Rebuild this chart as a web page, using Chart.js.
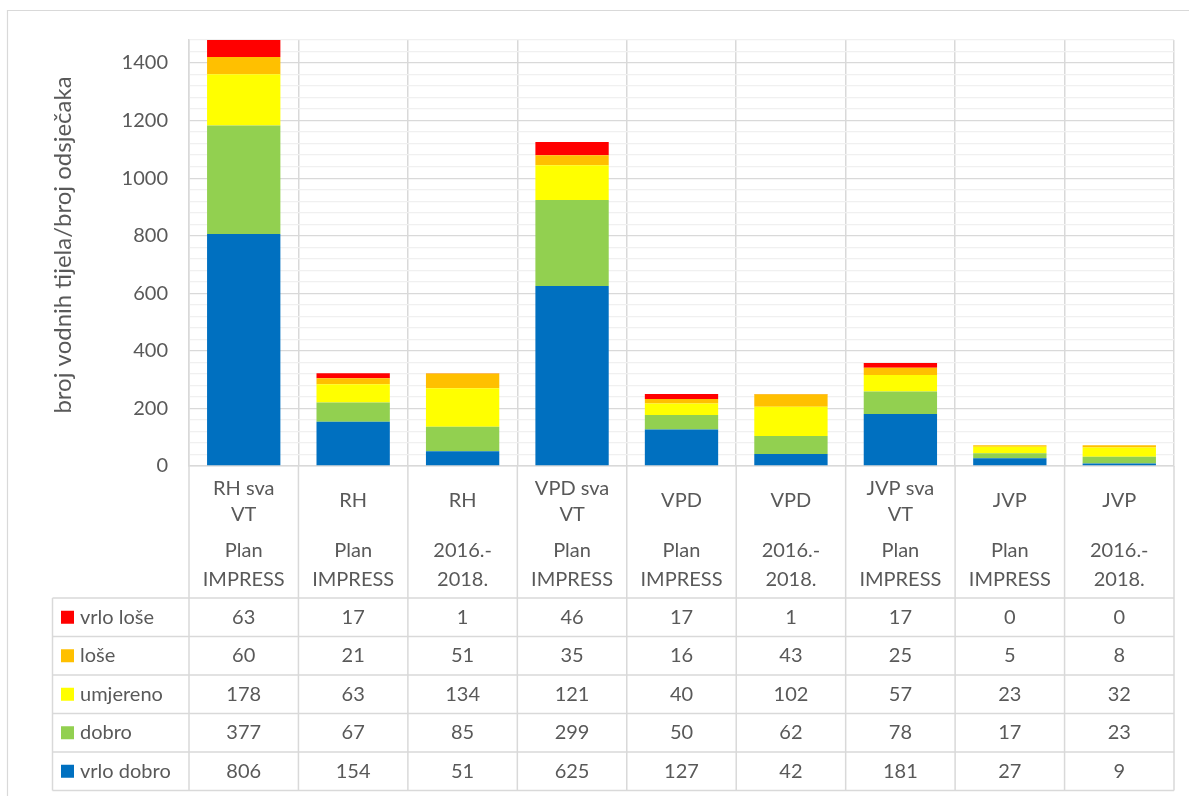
<!DOCTYPE html>
<html>
<head>
<meta charset="utf-8">
<script src="https://cdn.jsdelivr.net/npm/chart.js@4.4.1/dist/chart.umd.min.js"></script>
<style>
html,body{margin:0;padding:0;background:#fff;}
#wrap{width:1189px;height:796px;position:relative;}
</style>
</head>
<body>
<div id="wrap"><canvas id="c" width="1189" height="796"></canvas></div>
<script>
// ---- data ----
const categoriesTop = [["RH sva","VT"],["RH"],["RH"],["VPD sva","VT"],["VPD"],["VPD"],["JVP sva","VT"],["JVP"],["JVP"]];
const categoriesSub = [["Plan","IMPRESS"],["Plan","IMPRESS"],["2016.-","2018."],["Plan","IMPRESS"],["Plan","IMPRESS"],["2016.-","2018."],["Plan","IMPRESS"],["Plan","IMPRESS"],["2016.-","2018."]];
const vrloDobro = [806,154,51,625,127,42,181,27,9];
const dobro     = [377,67,85,299,50,62,78,17,23];
const umjereno  = [178,63,134,121,40,102,57,23,32];
const lose      = [60,21,51,35,16,43,25,5,8];
const vrloLose  = [63,17,1,46,17,1,17,0,0];
const seriesNames = ["vrlo dobro","dobro","umjereno","loše","vrlo loše"];
const seriesColors = ["#0070C0","#92D050","#FFFF00","#FFC000","#FF0000"];
const yTicksMajor = [0,200,400,600,800,1000,1200,1400];
const yTitle = "broj vodnih tijela/broj odsječaka";

const seriesData = [vrloDobro,dobro,umjereno,lose,vrloLose];
const FONT = "Lato";
const TXT = "#595959";
const GRID = "#d9d9d9";

const tablePlugin = {
  id: 'tablePlugin',
  afterDraw(chart) {
    const ctx = chart.ctx;
    const xs = chart.scales.x;
    const area = chart.chartArea;
    const n = categoriesTop.length;
    const half = (xs.getPixelForValue(1) - xs.getPixelForValue(0)) / 2;
    const bounds = [];
    for (let i = 0; i < n; i++) bounds.push(xs.getPixelForValue(i) - half);
    bounds.push(xs.getPixelForValue(n - 1) + half);
    const labelBottom = 598;
    const tableLeft = 52.5;
    const rowH = 38.5;
    const nRows = seriesNames.length;
    const tableBottom = labelBottom + rowH * nRows;

    ctx.save();
    // outer frame
    ctx.strokeStyle = GRID;
    ctx.lineWidth = 1.2;
    ctx.beginPath();
    ctx.moveTo(7.5, 800); ctx.lineTo(7.5, 10.5); ctx.lineTo(1195, 10.5);
    ctx.stroke();

    ctx.lineWidth = 1.5;
    ctx.strokeStyle = GRID;
    ctx.beginPath();
    bounds.forEach(b => { ctx.moveTo(b, area.bottom); ctx.lineTo(b, tableBottom); });
    ctx.moveTo(tableLeft, labelBottom); ctx.lineTo(tableLeft, tableBottom);
    for (let r = 0; r <= nRows; r++) {
      const y = labelBottom + r * rowH;
      ctx.moveTo(tableLeft, y); ctx.lineTo(bounds[n], y);
    }
    ctx.stroke();

    // y axis title
    ctx.save();
    ctx.translate(63, 245);
    ctx.rotate(-Math.PI / 2);
    ctx.fillStyle = TXT;
    ctx.font = "24px " + FONT;
    ctx.textAlign = "center";
    ctx.textBaseline = "middle";
    ctx.fillText(yTitle, 0, 0);
    ctx.restore();

    // category labels
    ctx.fillStyle = TXT;
    ctx.font = "20px " + FONT;
    ctx.textAlign = "center";
    ctx.textBaseline = "middle";
    for (let i = 0; i < n; i++) {
      const cx = xs.getPixelForValue(i);
      const top = categoriesTop[i];
      if (top.length === 2) {
        ctx.fillText(top[0], cx, 489);
        ctx.fillText(top[1], cx, 515);
      } else {
        ctx.fillText(top[0], cx, 501);
      }
      ctx.fillText(categoriesSub[i][0], cx, 551);
      ctx.fillText(categoriesSub[i][1], cx, 580);
    }

    // table rows (top row = last series)
    for (let r = 0; r < nRows; r++) {
      const s = nRows - 1 - r;
      const cy = labelBottom + r * rowH + rowH / 2;
      ctx.fillStyle = seriesColors[s];
      ctx.fillRect(61, cy - 6.5, 13, 13);
      ctx.fillStyle = TXT;
      ctx.textAlign = "left";
      ctx.fillText(seriesNames[s], 80, cy);
      ctx.textAlign = "center";
      for (let i = 0; i < n; i++) {
        ctx.fillText(String(seriesData[s][i]), xs.getPixelForValue(i), cy);
      }
    }
    ctx.restore();
  }
};

function draw() {
  new Chart(document.getElementById('c'), {
    type: 'bar',
    data: {
      labels: categoriesTop.map(a => a.join(' ')),
      datasets: seriesNames.map((name, k) => ({
        label: name,
        data: seriesData[k],
        backgroundColor: seriesColors[k],
        borderWidth: 0,
        categoryPercentage: 1,
        barPercentage: 0.67
      }))
    },
    options: {
      responsive: false,
      animation: false,
      devicePixelRatio: 1,
      layout: { padding: { left: 48, top: 40, right: 15, bottom: 330 } },
      plugins: { legend: { display: false }, tooltip: { enabled: false } },
      scales: {
        x: {
          stacked: true,
          ticks: { display: false },
          grid: { color: GRID, lineWidth: 1.5, offset: true, drawTicks: false },
          border: { color: GRID, width: 1.5 }
        },
        y: {
          stacked: true,
          min: 0,
          max: 1480,
          afterFit(scale) { scale.width = 141; },
          afterBuildTicks(scale) {
            const t = [];
            for (let v = 0; v <= 1480; v += 40) t.push({ value: v });
            scale.ticks = t;
          },
          ticks: {
            autoSkip: false,
            padding: 21,
            color: TXT,
            font: { family: FONT, size: 20 },
            callback: (v) => yTicksMajor.includes(v) ? String(v) : ''
          },
          grid: {
            drawTicks: false,
            lineWidth: 1.3,
            color: (c) => (c.tick && yTicksMajor.includes(c.tick.value)) ? GRID : '#f0f0f0'
          },
          border: { color: GRID, width: 1.5 },
          title: { display: false, text: yTitle }
        }
      }
    },
    plugins: [tablePlugin]
  });
}
if (document.fonts && document.fonts.load) {
  document.fonts.load("20px " + FONT).then(draw, draw);
} else { draw(); }
</script>
</body>
</html>
